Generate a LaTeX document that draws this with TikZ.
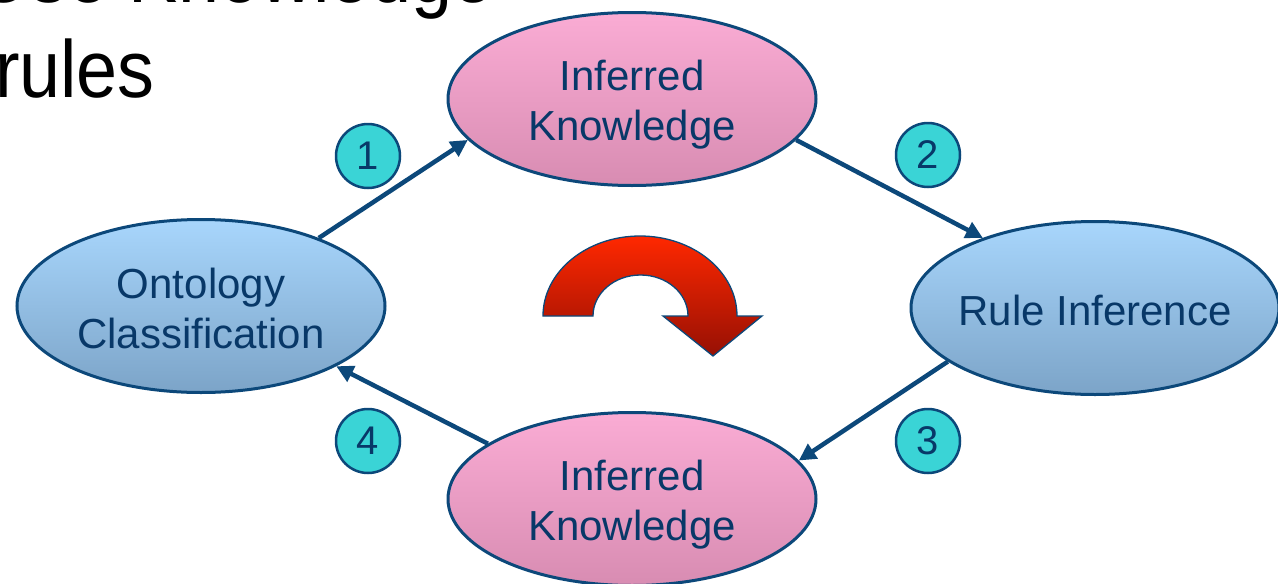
\documentclass[tikz,border=0pt]{standalone}
\usepackage{fontspec}
\setmainfont{Liberation Sans}
\usetikzlibrary{arrows.meta,shapes.geometric}

\definecolor{navy}{RGB}{12,72,122}
\definecolor{inknavy}{RGB}{8,56,104}
\definecolor{tealfill}{RGB}{58,212,214}
\definecolor{bluetop}{RGB}{168,214,252}
\definecolor{bluebot}{RGB}{124,164,200}
\definecolor{pinktop}{RGB}{250,172,212}
\definecolor{pinkbot}{RGB}{216,140,178}
\definecolor{redtop}{RGB}{255,40,0}
\definecolor{redbot}{RGB}{150,16,4}

% lower a line of text without changing the box it reports
\newcommand{\dropline}[2]{\raisebox{-#1}[\height][\depth]{#2}}

\tikzset{
  stage/.style={ellipse, draw=navy, line width=3pt, inner sep=0pt,
    minimum width=368pt, minimum height=173pt, align=center,
    text=inknavy, font=\fontsize{42}{50}\selectfont},
  bluestage/.style={stage, top color=bluetop, bottom color=bluebot},
  pinkstage/.style={stage, top color=pinktop, bottom color=pinkbot},
  stepnum/.style={circle, draw=navy, line width=2.5pt, fill=tealfill,
    minimum size=64pt, inner sep=0pt, text=inknavy,
    font=\fontsize{40}{48}\selectfont},
  conn/.style={draw=navy, line width=4.5pt,
    -{Triangle[length=17pt,width=17pt]}},
  headline/.style={inner sep=0pt, text=black,
    font=\fontsize{81}{95}\selectfont},
  cyclearrow/.style={draw=navy, line width=1.3pt,
    top color=redtop, bottom color=redbot}
}

\begin{document}
\begin{tikzpicture}[x=1pt,y=-1pt]
  \useasboundingbox (0,0) rectangle (1278,584);
  \clip (0,0) rectangle (1278,584);

  % slide heading, partly outside the frame
  \node[headline, anchor=base east] (head1) at (494,2) {\scalebox{0.91}[1]{Use Knowledge}};
  \node[headline, anchor=base east] (head2) at (155,97) {\scalebox{0.91}[1]{rules}};

  % the four stages of the cycle
  \node[pinkstage] (ikTop) at (632,99)
    {\dropline{6pt}{Inferred}\\\dropline{6pt}{Knowledge}};
  \node[bluestage] (rule) at (1095,308)
    {\makebox[0pt]{\dropline{2pt}{Rule Inference}}};
  \node[pinkstage] (ikBot) at (632,499)
    {\dropline{6pt}{Inferred}\\\dropline{6pt}{Knowledge}};
  \node[bluestage] (onto) at (201,306)
    {\dropline{2pt}{Ontology}\\\dropline{2pt}{Classification}};

  % connectors between the stages
  \draw[conn] (onto.30.5) -- (ikTop.194);
  \draw[conn] (ikTop.346) -- (rule.148.3);
  \draw[conn] (rule.200.2) -- (ikBot.13.6);
  \draw[conn] (ikBot.159.3) -- (onto.336.8);

  % step numbers
  \node[stepnum] (n1) at (368,156) {1};
  \node[stepnum] (n2) at (928,155) {2};
  \node[stepnum] (n3) at (928,441) {3};
  \node[stepnum] (n4) at (368,441) {4};

  % clockwise arrow in the middle
  \draw[cyclearrow] (543,316)
     arc[start angle=180, end angle=0, x radius=97pt, y radius=80pt]
     -- (762,316) -- (713,356) -- (663,316) -- (688,316)
     arc[start angle=0, end angle=180, x radius=47.5pt, y radius=41pt]
     -- cycle;
\end{tikzpicture}
\end{document}
